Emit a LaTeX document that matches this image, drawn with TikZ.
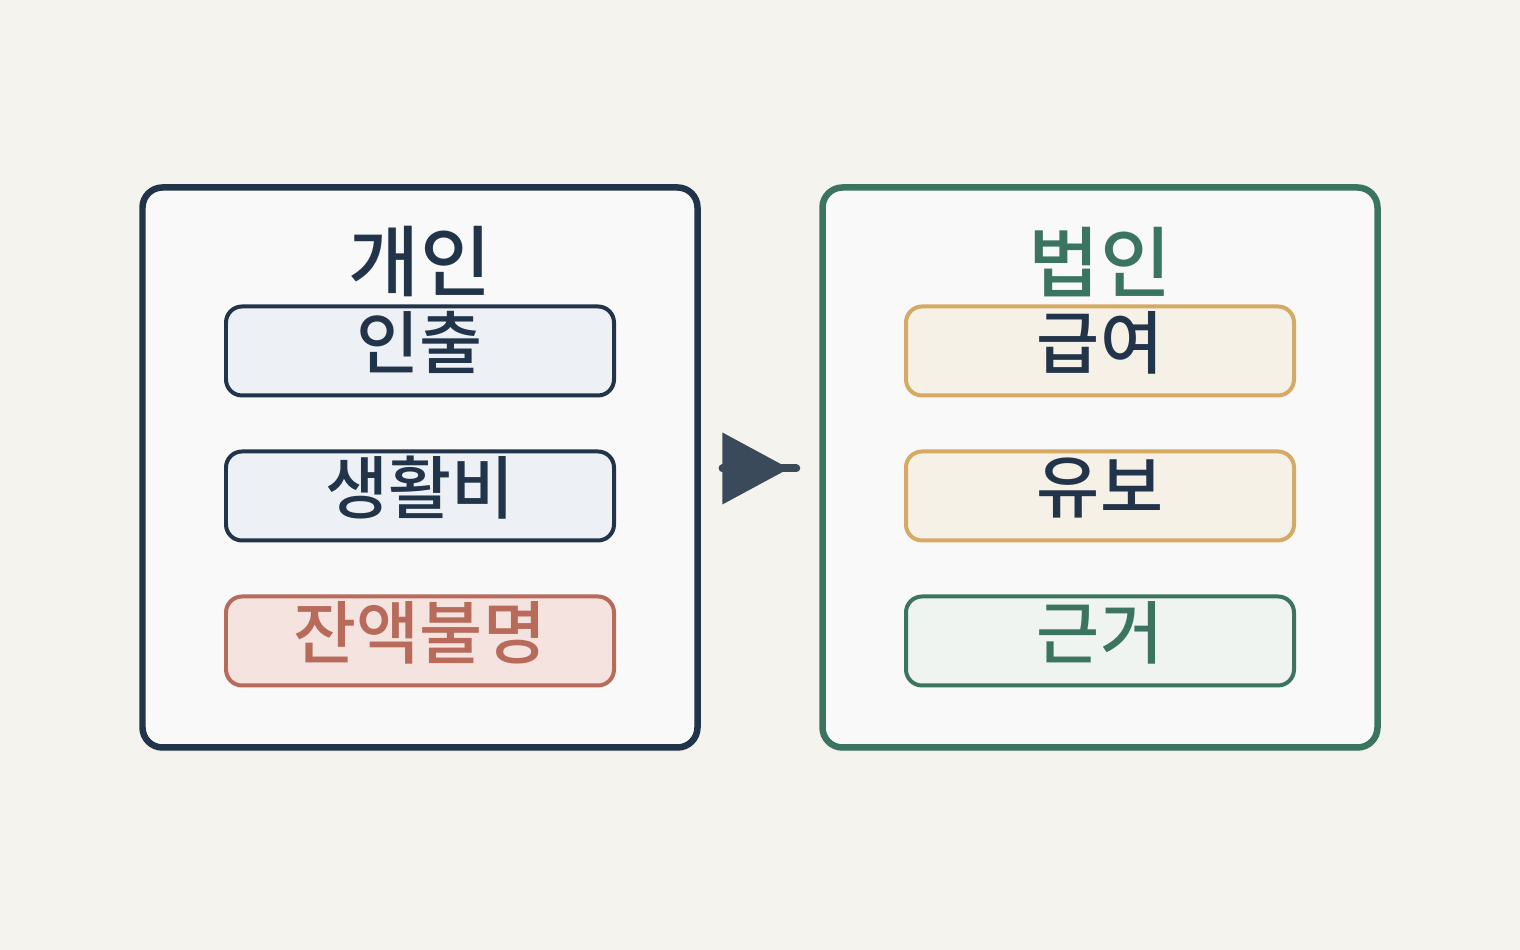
\documentclass[tikz,border=0pt]{standalone}
\usepackage{fontspec}
\setmainfont{Noto Sans CJK KR}[BoldFont={Noto Sans CJK KR Medium}]
\usetikzlibrary{arrows.meta,shadows}
\newdimen\pxu \pxu=0.01cm
\definecolor{bgc}{HTML}{F4F3EE}
\definecolor{panelc}{HTML}{F9F9F9}
\definecolor{navy}{HTML}{22344A}
\definecolor{pine}{HTML}{3B7461}
\definecolor{mist}{HTML}{EDF1F5}
\definecolor{rust}{HTML}{B86A5B}
\definecolor{blush}{HTML}{F4E3DF}
\definecolor{sand}{HTML}{D6AA64}
\definecolor{cream}{HTML}{F5F1E6}
\definecolor{mint}{HTML}{EFF4F0}
\definecolor{slate}{HTML}{3A4A5A}
\begin{document}
\begin{tikzpicture}[inner sep=0pt,
panel/.style={draw,rectangle,rounded corners=20\pxu,line width=6.5\pxu,fill=panelc,minimum width=5.55cm,minimum height=5.6cm,
  drop shadow={shadow xshift=0pt,shadow yshift=-4\pxu,opacity=0.05,fill=black}},
itembox/.style={draw,rectangle,rounded corners=16\pxu,line width=4\pxu,minimum width=3.88cm,minimum height=0.89cm,
  text depth=0.22cm,font=\fontsize{19.5}{19.5}\selectfont\bfseries},
heading/.style={font=\fontsize{22}{22}\selectfont\bfseries},
link/.style={slate,line width=8\pxu,line cap=round}]
\useasboundingbox[fill=bgc] (0,0) rectangle (15.2,9.5);
% left side
\draw (4.2,4.825) node[panel,draw=navy] (indiv) {};
\draw (4.2,6.88) node[heading,text=navy] (indivT) {개인};
\draw (4.2,5.99) node[itembox,draw=navy,fill=mist,text=navy] (draw1) {인출};
\draw (4.2,4.54) node[itembox,draw=navy,fill=mist,text=navy] (living) {생활비};
\draw (4.2,3.09) node[itembox,draw=rust,fill=blush,text=rust] (unknown) {잔액불명};
% right side
\draw (11.0,4.825) node[panel,draw=pine] (corp) {};
\draw (11.0,6.88) node[heading,text=pine] (corpT) {법인};
\draw (11.0,5.99) node[itembox,draw=sand,fill=cream,text=navy] (salary) {급여};
\draw (11.0,4.54) node[itembox,draw=sand,fill=cream,text=navy] (hold) {유보};
\draw (11.0,3.09) node[itembox,draw=pine,fill=mint,text=pine] (basis) {근거};
% arrow
\draw[link] ([xshift=22\pxu,yshift=-1\pxu]indiv.east) -- ([xshift=-23\pxu,yshift=-1\pxu]corp.west);
\draw[link,-{Triangle[length=0.67cm,width=0.70cm]}] ([xshift=22\pxu,yshift=-1\pxu]indiv.east) -- ([xshift=-30\pxu,yshift=-1\pxu]corp.west);
\end{tikzpicture}
\end{document}
